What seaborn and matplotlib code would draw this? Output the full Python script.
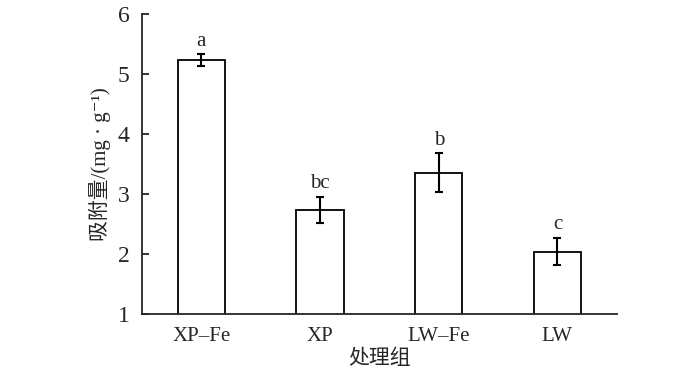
import seaborn as sns
import matplotlib.pyplot as plt
import pandas as pd

groups = ["XP–Fe", "XP", "LW–Fe", "LW"]
means = [5.23, 2.74, 3.36, 2.04]
sds = [0.10, 0.22, 0.32, 0.23]
letters = ["a", "bc", "b", "c"]

sns.set_theme(style="white", rc={"axes.linewidth": 1.3})
plt.rcParams["font.family"] = ["Liberation Serif", "Noto Sans CJK SC", "DejaVu Sans"]

df = pd.DataFrame({"group": groups, "mean": means, "sd": sds})

fig = plt.figure(figsize=(7, 3.73), dpi=100)
ax = fig.add_axes([0.203, 0.158, 0.678, 0.804])

sns.barplot(data=df, x="group", y="mean", errorbar=None, width=0.4,
            color="white", edgecolor="black", linewidth=1.3, ax=ax)
ax.errorbar(range(len(groups)), df["mean"], yerr=df["sd"], fmt="none",
            ecolor="black", elinewidth=1.5, capsize=3, capthick=1.5)

for i, (m, s, t) in enumerate(zip(means, sds, letters)):
    ax.text(i, m + s + 0.06, t, ha="center", va="bottom", fontsize=15)

ax.set_xlim(-0.5, 3.5)
ax.set_ylim(1, 6)
ax.set_yticks([1, 2, 3, 4, 5, 6])
ax.tick_params(axis="y", direction="in", length=5, width=1.3, labelsize=17, pad=9, left=True)
ax.tick_params(axis="x", length=0, labelsize=15, pad=9)
ax.set_xlabel("处理组", fontsize=15, labelpad=3)
ax.set_ylabel("吸附量/(mg · g⁻¹)", fontsize=15, labelpad=5)
sns.despine(ax=ax)

fig.savefig("out.png", dpi=100)
